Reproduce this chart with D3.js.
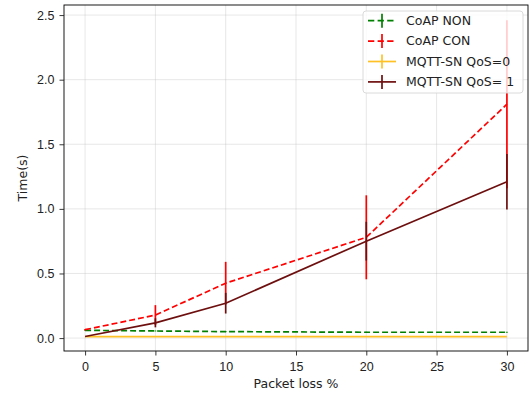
<!DOCTYPE html>
<html>
<head>
<meta charset="utf-8">
<script src="https://cdn.jsdelivr.net/npm/d3@7"></script>
<style>
  body { margin: 0; background: #fff; }
  svg { font-family: "DejaVu Sans", sans-serif; }
</style>
</head>
<body>
<div id="chart"></div>
<script>
// packet loss levels
const packetLoss = [0, 5, 10, 20, 30];

// mean times (s) and error half-widths
const coapNon = [0.06, 0.055, 0.05, 0.045, 0.045];
const coapNonErr = [0.004, 0.004, 0.004, 0.004, 0.004];
const coapCon = [0.065, 0.178, 0.425, 0.78, 1.81];
const coapConErr = [0.005, 0.077, 0.165, 0.325, 0.65];
const mqttQos0 = [0.012, 0.012, 0.012, 0.012, 0.012];
const mqttQos0Err = [0, 0, 0, 0, 0];
const mqttQos1 = [0.012, 0.118, 0.27, 0.75, 1.21];
const mqttQos1Err = [0, 0.035, 0.08, 0.15, 0.215];

const xTicks = [0, 5, 10, 15, 20, 25, 30];
const yTicks = [0, 0.5, 1.0, 1.5, 2.0, 2.5];

const series = [
    { name: "CoAP NON", values: coapNon, err: coapNonErr, color: "#008000", dash: "6,3" },
    { name: "CoAP CON", values: coapCon, err: coapConErr, color: "#ff0000", dash: "6,3" },
    { name: "MQTT-SN QoS=0", values: mqttQos0, err: mqttQos0Err, color: "#ffc125", dash: null },
    { name: "MQTT-SN QoS= 1", values: mqttQos1, err: mqttQos1Err, color: "#6e0f0f", dash: null }
];

const W = 531, H = 394;
const margin = { top: 5, right: 3, bottom: 43, left: 64 };
const width = W - margin.left - margin.right;
const height = H - margin.top - margin.bottom;
const fontSize = "12.5px";

const svg = d3.select("#chart").append("svg")
    .attr("width", W).attr("height", H)
    .append("g")
    .attr("transform", `translate(${margin.left},${margin.top})`);

const x = d3.scaleLinear().domain([-1.5, 31.5]).range([0, width]);
const y = d3.scaleLinear().domain([-0.1, 2.578]).range([height, 0]);

// grid
svg.append("g")
    .selectAll("line.gx")
    .data(xTicks)
    .enter().append("line")
    .attr("x1", d => x(d)).attr("x2", d => x(d))
    .attr("y1", 0).attr("y2", height)
    .attr("stroke", "#b0b0b0").attr("stroke-opacity", 0.35).attr("stroke-width", 0.9);

svg.append("g")
    .selectAll("line.gy")
    .data(yTicks)
    .enter().append("line")
    .attr("y1", d => y(d)).attr("y2", d => y(d))
    .attr("x1", 0).attr("x2", width)
    .attr("stroke", "#b0b0b0").attr("stroke-opacity", 0.35).attr("stroke-width", 0.9);

// series
const line = d3.line()
    .x((d, i) => x(packetLoss[i]))
    .y(d => y(d));

series.forEach(s => {
    const g = svg.append("g");
    g.append("path")
        .attr("d", line(s.values))
        .attr("fill", "none")
        .attr("stroke", s.color)
        .attr("stroke-width", 1.7)
        .attr("stroke-dasharray", s.dash);
    g.selectAll("line.err")
        .data(s.values.map((v, i) => ({ v, e: s.err[i], p: packetLoss[i] })))
        .enter().append("line")
        .attr("x1", d => x(d.p)).attr("x2", d => x(d.p))
        .attr("y1", d => y(d.v - d.e)).attr("y2", d => y(d.v + d.e))
        .attr("stroke", s.color)
        .attr("stroke-width", 1.7);
});

// frame
svg.append("rect")
    .attr("width", width).attr("height", height)
    .attr("fill", "none").attr("stroke", "#000").attr("stroke-width", 0.9);

// axes
const xAxis = svg.append("g")
    .attr("transform", `translate(0,${height})`)
    .call(d3.axisBottom(x).tickValues(xTicks).tickSize(4.5).tickPadding(7).tickFormat(d3.format("d")));
const yAxis = svg.append("g")
    .call(d3.axisLeft(y).tickValues(yTicks).tickSize(4.5).tickPadding(5).tickFormat(d3.format(".1f")));

[xAxis, yAxis].forEach(a => {
    a.select(".domain").remove();
    a.selectAll("text").style("font-size", fontSize).attr("fill", "#222");
    a.selectAll("line").attr("stroke", "#222").attr("stroke-width", 0.9);
});

svg.append("text")
    .attr("x", width / 2).attr("y", height + 37)
    .attr("text-anchor", "middle")
    .style("font-size", fontSize)
    .attr("fill", "#222")
    .text("Packet loss %");

svg.append("text")
    .attr("transform", `translate(${-37},${height / 2}) rotate(-90)`)
    .attr("text-anchor", "middle")
    .style("font-size", fontSize)
    .attr("fill", "#222")
    .text("Time(s)");

// legend
const lx = 299, ly = 6;
const legend = svg.append("g").attr("transform", `translate(${lx},${ly})`);
legend.append("rect")
    .attr("width", 160).attr("height", 82)
    .attr("rx", 3)
    .attr("fill", "#fff").attr("fill-opacity", 0.8)
    .attr("stroke", "#d6d6d6").attr("stroke-width", 0.9);

const items = legend.selectAll(".legend")
    .data(series)
    .enter().append("g")
    .attr("class", "legend")
    .attr("transform", (d, i) => `translate(5,${9.7 + i * 20.4})`);

items.append("line")
    .attr("x1", 0).attr("x2", 28).attr("y1", 0).attr("y2", 0)
    .attr("stroke", d => d.color).attr("stroke-width", 1.7)
    .attr("stroke-dasharray", d => d.dash ? "6.3,3.3" : null);
items.append("line")
    .attr("x1", 14).attr("x2", 14).attr("y1", -7).attr("y2", 7)
    .attr("stroke", d => d.color).attr("stroke-width", 1.7);
items.append("text")
    .attr("x", 38).attr("y", 0)
    .attr("dy", "0.35em")
    .style("font-size", fontSize)
    .attr("fill", "#222")
    .text(d => d.name);
</script>
</body>
</html>
